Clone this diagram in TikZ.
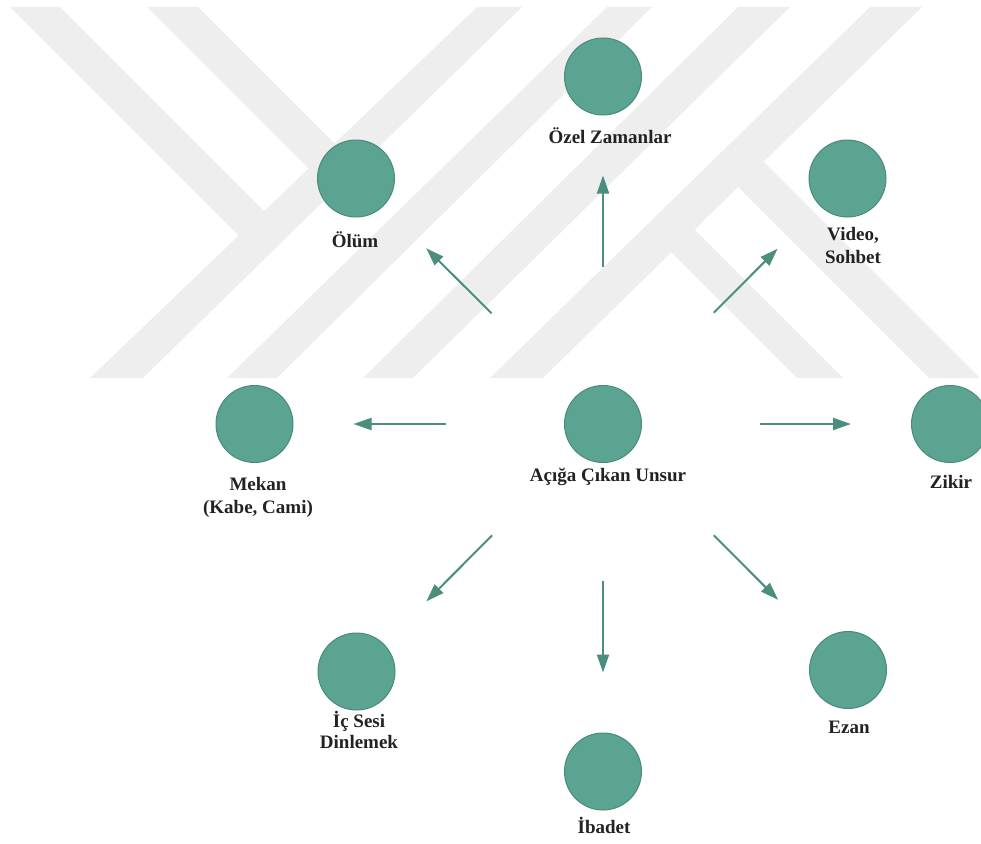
\documentclass[tikz,border=0pt]{standalone}
\usepackage{fontspec}
\setmainfont{Liberation Serif}
\usetikzlibrary{arrows.meta}
\definecolor{wm}{RGB}{238,238,238}
\definecolor{cfill}{RGB}{91,164,146}
\definecolor{cdraw}{RGB}{74,138,122}
\definecolor{arrc}{RGB}{76,142,126}
\definecolor{txt}{RGB}{34,34,34}
\begin{document}
\begin{tikzpicture}[x=1pt,y=-1pt,
  wmband/.style={fill=wm, draw=none},
  bubble/.style={circle, fill=cfill, draw=cdraw, line width=1pt, minimum size=77pt, inner sep=0pt},
  lbl/.style={font=\fontsize{19}{23}\selectfont\bfseries, text=txt, align=center, inner sep=0pt, anchor=base},
  conn/.style={draw=arrc, line width=2pt, -{Triangle[length=18pt,width=12pt]}, shorten <=157pt, shorten >=99pt}]
\useasboundingbox (0,0) rectangle (981,843);
% watermark
\fill[wmband] (477,7) -- (522,7) -- (143,378) -- (90,378) -- cycle;
\fill[wmband] (607,7) -- (652,7) -- (277,378) -- (227,378) -- cycle;
\fill[wmband] (738,7) -- (790,7) -- (413,378) -- (363,378) -- cycle;
\fill[wmband] (870,7) -- (922,7) -- (543,378) -- (490,378) -- cycle;
\fill[wmband] (10,7) -- (60,7) -- (284,231) -- (259,256) -- cycle;
\fill[wmband] (147,7) -- (198,7) -- (354.6,163.6) -- (328.5,188.5) -- cycle;
\fill[wmband] (929,378) -- (980,378) -- (744,142) -- (718,167) -- cycle;
\fill[wmband] (797,378) -- (843,378) -- (674.6,209.6) -- (651.4,232.4) -- cycle;
% nodes
\node[bubble] (c) at (603,424) {};
\node[bubble] (ozel) at (603,76.5) {};
\node[bubble] (olum) at (356,178.5) {};
\node[bubble] (video) at (847.5,178.5) {};
\node[bubble] (mekan) at (254.5,424) {};
\node[bubble] (zikir) at (950,424) {};
\node[bubble] (ic) at (356.5,671.5) {};
\node[bubble] (ezan) at (848,670) {};
\node[bubble] (ibadet) at (603,771.5) {};
% labels
\node[lbl] (lc) at (608,481) {Açığa Çıkan Unsur};
\node[lbl] (lozel) at (610,143) {Özel Zamanlar};
\node[lbl] (lolum) at (355,247) {Ölüm};
\node[lbl] (lvideo) at (853,263) {Video,\\Sohbet};
\node[lbl] (lmekan) at (258,513) {Mekan\\(Kabe, Cami)};
\node[lbl] (lzikir) at (951,488) {Zikir};
\node[lbl] (lic) at (359,748) {İç Sesi\\[-2pt]Dinlemek};
\node[lbl] (lezan) at (849,733) {Ezan};
\node[lbl] (libadet) at (604,833) {İbadet};
% connectors
\draw[conn] (c.center) -- (ozel.center);
\draw[conn] (c.center) -- (olum.center);
\draw[conn] (c.center) -- (video.center);
\draw[conn] (c.center) -- (mekan.center);
\draw[conn] (c.center) -- (zikir.center);
\draw[conn] (c.center) -- (ic.center);
\draw[conn] (c.center) -- (ibadet.center);
\draw[conn] (c.center) -- (ezan.center);
\end{tikzpicture}
\end{document}
